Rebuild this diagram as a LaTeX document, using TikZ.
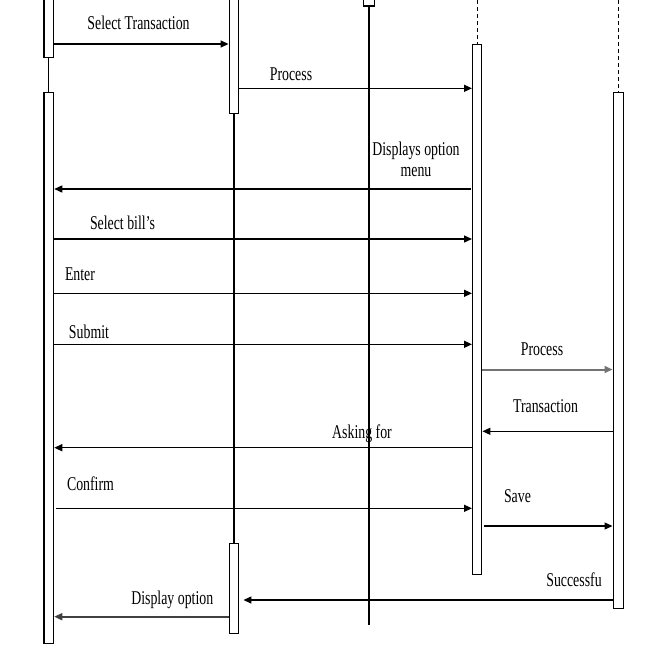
\documentclass[tikz,border=0pt]{standalone}
\usepackage{fontspec}
\newfontfamily\msgfont[FakeStretch = 0.71]{Liberation Serif}
\usetikzlibrary{arrows.meta,positioning}

\tikzset{
  act/.style = {draw, line width = 1.4pt, fill = white, minimum width = 9.5, minimum height = #1, anchor = north, inner sep = 0pt},
  life/.style = {line width = 1.2pt},
  dashlife/.style = {line width = 1.1pt, dash pattern = on 4pt off 3pt},
  msg/.style = {line width = 1.4pt, -{Triangle[length = 8pt, width = 7pt]}},
  msggray/.style = {msg, draw = black!55, line width = 2pt},
  lbl/.style = {font = \msgfont\fontsize{19.5}{21.5}\selectfont, anchor = base, inner sep = 0pt, align = center}
}

\begin{document}
\begin{tikzpicture}[x = 1pt, y = -1pt]

\clip (0,0) rectangle (666,661);

% lifelines
\coordinate (ctop) at (477.2,0);
\coordinate (dtop) at (618.2,0);
\coordinate (oend) at (369,625);

\node[act = 67] (u1) at (48.8,-10) {};
\node[act = 551] (u2) at (48.8,92) {};
\node[act = 123] (p1) at (234,-10) {};
\node[act = 90] (p2) at (234,543) {};
\node[act = 20.5, minimum width = 10.5] (o) at (369,-15) {};
\node[act = 530, minimum width = 9] (c) at (477.2,44) {};
\node[act = 516, minimum width = 10] (d) at (618.2,92) {};

\draw[life] (u1.south) -- (u2.north);
\draw[life] (p1.south) -- (p2.north);
\draw[life] (o.south) -- (oend);
\draw[dashlife] (ctop) -- (c.north);
\draw[dashlife] (dtop) -- (d.north);

%%%%%%%%%%%%%%%%%%%%%%%%%%%%%%%%

% messages
\draw[msg] (u1.east |- 0,44) -- (p1.west |- 0,44);
\node[lbl] (l1) at (138.5,29.3) {Select Transaction};

\draw[msg] (p1.east |- 0,88.3) -- (c.west |- 0,88.3);
\node[lbl] (l2) at (291,80) {Process};

\draw[msg] ([xshift = -1.5pt]c.west |- 0,189) -- (u2.east |- 0,189);
\node[lbl, anchor = north] (l3) at (416,141.5) {Displays option\\menu};

\draw[msg] (u2.east |- 0,239) -- (c.west |- 0,239);
\node[lbl] (l4) at (122.5,229) {Select bill’s};

\draw[msg] (u2.east |- 0,293.3) -- (c.west |- 0,293.3);
\node[lbl] (l5) at (80,280) {Enter};

\draw[msg] (u2.east |- 0,344.3) -- (c.west |- 0,344.3);
\node[lbl] (l6) at (89,338) {Submit};

%%%%%%%%%%%%%%%%%%%%%%%%%%%%%%%%

\draw[msggray] (c.east |- 0,369.5) -- (d.west |- 0,369.5);
\node[lbl] (l7) at (542,355.3) {Process};

\draw[msg] (d.west |- 0,431.3) -- (c.east |- 0,431.3);
\node[lbl] (l8) at (545.5,412.3) {Transaction};

\draw[msg] (c.west |- 0,447.7) -- (u2.east |- 0,447.7);
\node[lbl] (l9) at (362,438.3) {Asking for};

\draw[msg] ([xshift = 1.5pt]u2.east |- 0,508.3) -- (c.west |- 0,508.3);
\node[lbl] (l10) at (90.5,490.7) {Confirm};

\draw[msg] ([xshift = 1.5pt]c.east |- 0,526) -- (d.west |- 0,526);
\node[lbl] (l11) at (517.5,502.3) {Save};

\draw[msg, shorten > = 4pt] (d.west |- 0,600) -- (p2.east |- 0,600);
\node[lbl] (l12) at (574,586) {Successfu};

\draw[msggray, draw = black!75, line width = 1.7pt] (p2.west |- 0,616.7) -- (u2.east |- 0,616.7);
\node[lbl] (l13) at (172.3,604.3) {Display option};

\end{tikzpicture}
\end{document}
